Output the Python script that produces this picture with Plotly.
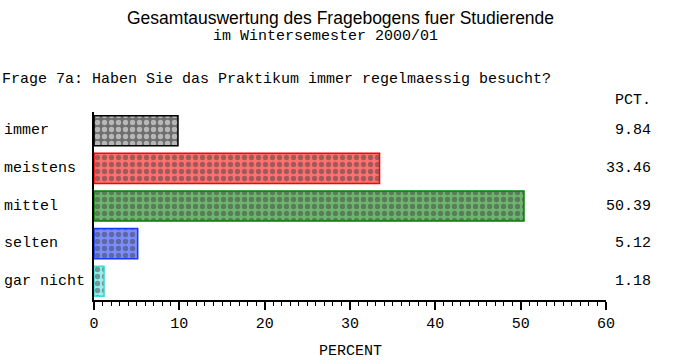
import plotly.graph_objects as go

categories = ["immer", "meistens", "mittel", "selten", "gar nicht"]
percent = [9.84, 33.46, 50.39, 5.12, 1.18]
pct_labels = ["9.84", "33.46", "50.39", "5.12", "1.18"]
colors = ["#000000", "#ff0000", "#008000", "#1438ff", "#40d8d8"]
tints = ["#6e6e6e", "#ff7070", "#6eb46e", "#7a8cff", "#9deaea"]

title = "Gesamtauswertung des Fragebogens fuer Studierende"
subtitle = "im Wintersemester 2000/01"
question = "Frage 7a: Haben Sie das Praktikum immer regelmaessig besucht?"

MONO = "Liberation Mono, Courier New, monospace"
SANS = "Liberation Sans, Arial, sans-serif"

W, H = 685, 364
L, R, T, B = 94, 79, 112, 64
pw = W - L - R
ph = H - T - B
FS = 15

fig = go.Figure()
fig.add_trace(go.Bar(
    x=percent, y=categories, orientation="h", width=0.8,
    marker=dict(color=tints,
                line=dict(color=colors, width=1.5),
                pattern=dict(shape=".", fgcolor=colors, bgcolor=tints,
                             size=7, solidity=0.45)),
    showlegend=False, hoverinfo="skip"))

def py(ypix):
    return (H - B - ypix) / ph

annotations = [
    dict(text=title, xref="paper", yref="paper", x=(340 - L) / pw, y=py(18),
         xanchor="center", yanchor="middle", showarrow=False,
         font=dict(family=SANS, size=17.5, color="black")),
    dict(text=subtitle, xref="paper", yref="paper", x=(325 - L) / pw, y=py(37),
         xanchor="center", yanchor="middle", showarrow=False,
         font=dict(family=MONO, size=FS, color="black")),
    dict(text=question, xref="paper", yref="paper", x=(0 - L) / pw, y=py(79),
         xanchor="left", yanchor="middle", showarrow=False,
         font=dict(family=MONO, size=FS, color="black")),
    dict(text="PCT.", xref="paper", yref="paper", x=(653 - L) / pw, y=py(101),
         xanchor="right", yanchor="middle", showarrow=False,
         font=dict(family=MONO, size=FS, color="black")),
    dict(text="PERCENT", xref="paper", yref="paper", x=(350 - L) / pw, y=py(351),
         xanchor="center", yanchor="middle", showarrow=False,
         font=dict(family=MONO, size=FS, color="black")),
]
for c, lab in zip(categories, pct_labels):
    annotations.append(dict(text=c, xref="paper", yref="y", x=(2 - L) / pw, y=c,
                            xanchor="left", yanchor="middle", showarrow=False,
                            font=dict(family=MONO, size=FS, color="black")))
    annotations.append(dict(text=lab, xref="paper", yref="y", x=(653 - L) / pw, y=c,
                            xanchor="right", yanchor="middle", showarrow=False,
                            font=dict(family=MONO, size=FS, color="black")))

fig.update_layout(
    width=W, height=H, margin=dict(l=L, r=R, t=T, b=B, autoexpand=False),
    paper_bgcolor="white", plot_bgcolor="white",
    annotations=annotations,
    xaxis=dict(range=[0, 60], autorange=False, dtick=10, tick0=0, showgrid=False,
               zeroline=False, automargin=False,
               showline=True, linecolor="black", linewidth=1.5,
               ticks="outside", ticklen=8, tickwidth=1.5, tickcolor="black",
               ticklabelstandoff=0,
               minor=dict(dtick=1, ticks="outside", ticklen=4, tickwidth=1, tickcolor="black"),
               tickfont=dict(family=MONO, size=FS, color="black")),
    yaxis=dict(categoryorder="array", categoryarray=categories, autorange=False,
               automargin=False,
               range=[4.5, -0.5], showticklabels=False, showgrid=False, zeroline=False,
               showline=True, linecolor="black", linewidth=1.5, ticks=""),
)

fig.write_html("out.html")
